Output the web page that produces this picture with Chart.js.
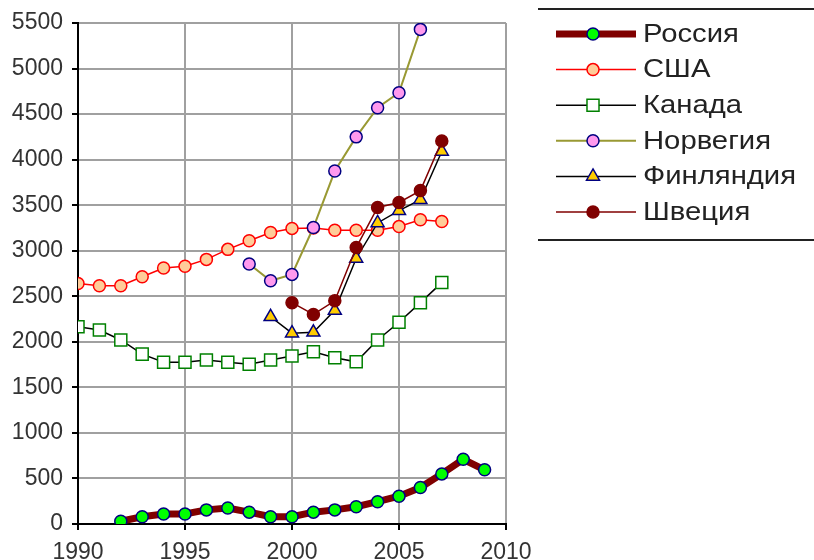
<!DOCTYPE html>
<html>
<head>
<meta charset="utf-8">
<script src="https://cdn.jsdelivr.net/npm/chart.js@4"></script>
<style>
  html, body { margin: 0; padding: 0; background: #fff; }
  #wrap { width: 814px; height: 560px; position: relative; }
</style>
</head>
<body>
<div id="wrap"><canvas id="chart01"></canvas></div>
<script>
// годы 1990..2009, null = нет данных
var years = [1990, 1991, 1992, 1993, 1994, 1995, 1996, 1997, 1998, 1999,
             2000, 2001, 2002, 2003, 2004, 2005, 2006, 2007, 2008, 2009];

var russia  = [null, null, 30, 80, 110, 110, 155, 175, 130, 80,
               80, 130, 155, 190, 245, 305, 400, 550, 710, 595];
var usa     = [2640, 2615, 2615, 2715, 2810, 2830, 2905, 3015, 3110, 3200,
               3245, 3250, 3225, 3225, 3225, 3265, 3340, 3320, null, null];
var canada  = [2165, 2130, 2020, 1865, 1775, 1775, 1800, 1775, 1755, 1800,
               1845, 1890, 1825, 1780, 2020, 2215, 2430, 2650, null, null];
var norway  = [null, null, null, null, null, null, null, null, 2855, 2670,
               2740, 3255, 3875, 4250, 4570, 4735, 5430, null, null, null];
var finland = [null, null, null, null, null, null, null, null, null, 2275,
               2095, 2105, 2345, 2915, 3305, 3440, 3560, 4090, null, null];
var sweden  = [null, null, null, null, null, null, null, null, null, null,
               2430, 2300, 2450, 3035, 3475, 3530, 3660, 4205, null, null];

var xTicks = [1990, 1995, 2000, 2005, 2010];
var yMax = 5500;

function pts(arr) {
  var out = [];
  arr.forEach(function(v, i) {
    if (v !== null) out.push({ x: years[i], y: v });
  });
  return out;
}

// легенда рисуется на канве по стилям наборов данных
var legendPlugin = {
  id: 'boxLegend',
  afterDraw: function(chart) {
    var ctx = chart.ctx;
    ctx.save();
    ctx.strokeStyle = '#222';
    ctx.lineWidth = 2;
    ctx.beginPath();
    ctx.moveTo(538, 9); ctx.lineTo(814, 9);
    ctx.moveTo(538, 240); ctx.lineTo(814, 240);
    ctx.stroke();
    ctx.font = '25px "Liberation Sans", Arial, sans-serif';
    ctx.textBaseline = 'middle';
    chart.data.datasets.forEach(function(ds, i) {
      var y = 34 + i * 35.6;
      ctx.strokeStyle = ds.borderColor;
      ctx.lineWidth = ds.borderWidth;
      ctx.lineCap = 'butt';
      ctx.beginPath();
      ctx.moveTo(556, y); ctx.lineTo(636, y);
      ctx.stroke();
      ctx.fillStyle = ds.pointBackgroundColor;
      ctx.strokeStyle = ds.pointBorderColor;
      ctx.lineWidth = ds.pointBorderWidth;
      Chart.helpers.drawPoint(ctx, {
        pointStyle: ds.pointStyle, rotation: 0,
        radius: ds.pointRadius, borderWidth: ds.pointBorderWidth
      }, 593, y);
      // текст в оригинале немного растянут по горизонтали
      ctx.save();
      ctx.translate(643, y + 1);
      ctx.scale(1.17, 1);
      ctx.fillStyle = '#222';
      ctx.fillText(ds.label, 0, 0);
      ctx.restore();
    });
    ctx.restore();
  }
};

var data = {
  datasets: [
  {
    label: 'Россия',
    data: pts(russia),
    borderColor: '#800000',
    borderWidth: 7,
    pointStyle: 'circle',
    pointRadius: 6,
    pointBackgroundColor: '#00ff00',
    pointBorderColor: '#000080',
    pointBorderWidth: 1.5,
    order: 6
  },{
    label: 'США',
    data: pts(usa),
    borderColor: '#ff0000',
    borderWidth: 1.5,
    pointStyle: 'circle',
    pointRadius: 6,
    pointBackgroundColor: '#ffcc99',
    pointBorderColor: '#ff0000',
    pointBorderWidth: 1.5,
    order: 5
  },{
    label: 'Канада',
    data: pts(canada),
    borderColor: '#000000',
    borderWidth: 1.5,
    pointStyle: 'rect',
    pointRadius: 8.5,
    pointBackgroundColor: '#ffffff',
    pointBorderColor: '#008000',
    pointBorderWidth: 1.5,
    order: 4
  },{
    label: 'Норвегия',
    data: pts(norway),
    borderColor: '#999933',
    borderWidth: 2,
    pointStyle: 'circle',
    pointRadius: 6,
    pointBackgroundColor: '#ff99ee',
    pointBorderColor: '#000080',
    pointBorderWidth: 1.5,
    order: 3
  },{
    label: 'Финляндия',
    data: pts(finland),
    borderColor: '#000000',
    borderWidth: 1.5,
    pointStyle: 'triangle',
    pointRadius: 7.5,
    pointBackgroundColor: '#ffcc00',
    pointBorderColor: '#000080',
    pointBorderWidth: 1.5,
    order: 2
  },{
    label: 'Швеция',
    data: pts(sweden),
    borderColor: '#800000',
    borderWidth: 1.5,
    pointStyle: 'circle',
    pointRadius: 6,
    pointBackgroundColor: '#800000',
    pointBorderColor: '#800000',
    pointBorderWidth: 1.5,
    order: 1
  }]
};

var ctx = document.getElementById('chart01');
var tickFont = { family: '"Liberation Sans", Arial, sans-serif', size: 23 };
var plain = function(value) { return String(value); };

var myChart = new Chart(ctx, {
  type: 'line',
  data: data,
  plugins: [legendPlugin],
  options: {
    responsive: true,
    maintainAspectRatio: false,
    animation: false,
    layout: { padding: { left: 0, right: 308, top: 23, bottom: 0 } },
    plugins: {
      legend: { display: false },
      tooltip: { enabled: false }
    },
    scales: {
      x: {
        type: 'linear',
        min: 1990,
        max: 2010,
        afterBuildTicks: function(scale) {
          scale.ticks = xTicks.map(function(v) { return { value: v }; });
        },
        afterFit: function(scale) { scale.height = 36; },
        ticks: { color: '#333', font: tickFont, padding: 9, maxRotation: 0, callback: plain },
        grid: { color: '#a0a0a0', lineWidth: 2, tickLength: 6, tickColor: '#000' },
        border: { color: '#000', width: 2 }
      },
      y: {
        min: 0,
        max: yMax,
        ticks: { stepSize: 500, color: '#333', font: tickFont, padding: 9, callback: plain },
        afterFit: function(scale) { scale.width = 78; },
        grid: { color: '#a0a0a0', lineWidth: 2, tickLength: 6, tickColor: '#000' },
        border: { color: '#000', width: 2 }
      }
    }
  }
});
</script>
</body>
</html>
